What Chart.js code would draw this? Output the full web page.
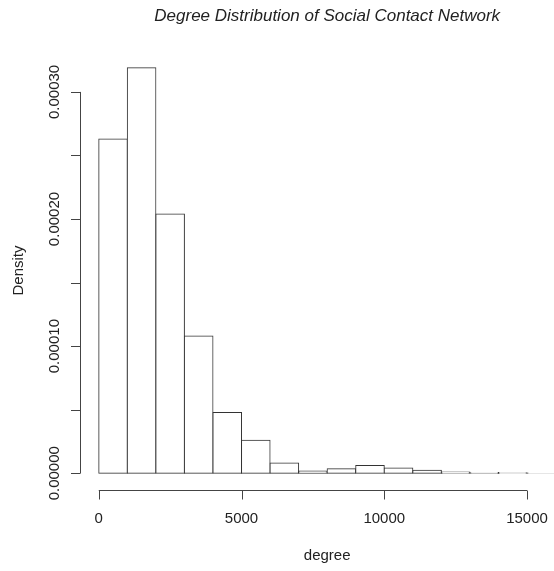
<!DOCTYPE html>
<html>
<head>
<meta charset="utf-8">
<script src="https://cdn.jsdelivr.net/npm/chart.js@4/dist/chart.umd.min.js"></script>
<style>
  html, body { margin: 0; padding: 0; background: #fff; }
  canvas { display: block; }
</style>
</head>
<body>
<canvas id="hist" width="554" height="571"></canvas>
<script>
// bins of width 1000, from 0 to 16000
const binStarts = [0, 1000, 2000, 3000, 4000, 5000, 6000, 7000, 8000, 9000, 10000, 11000, 12000, 13000, 14000, 15000];
const density = [0.000263, 0.000319, 0.000204, 0.000108, 0.0000478, 0.000026, 0.0000081, 0.0000018,
                 0.0000036, 0.000006, 0.0000042, 0.0000024, 0.0000009, 0.0000006, 0.0000003, 0.0000002];
const binWidth = 1000;
const xTicks = [0, 5000, 10000, 15000];
const xTickLabels = ['0', '5000', '10000', '15000'];
const yTicks = [0, 0.00005, 0.0001, 0.00015, 0.0002, 0.00025, 0.0003];
const yTickLabels = ['0.00000', '', '0.00010', '', '0.00020', '', '0.00030'];

const titleText = 'Degree Distribution of Social Contact Network';
const xTitle = 'degree';
const yTitle = 'Density';
const FONT = '"Liberation Sans", Arial, Helvetica, sans-serif';

// R-style axes drawn off the plot region
const rAxes = {
    id: 'rAxes',
    afterDraw(chart) {
        const c = chart.ctx;
        const area = chart.chartArea;
        const xs = chart.scales.x, ys = chart.scales.y;
        c.save();
        c.strokeStyle = '#444';
        c.fillStyle = '#222';
        c.lineWidth = 1;

        // x axis
        const ay = Math.round(area.bottom) + 0.5;
        c.beginPath();
        c.moveTo(xs.getPixelForValue(xTicks[0]), ay);
        c.lineTo(xs.getPixelForValue(xTicks[xTicks.length - 1]), ay);
        xTicks.forEach(v => {
            const px = Math.round(xs.getPixelForValue(v)) + 0.5;
            c.moveTo(px, ay);
            c.lineTo(px, ay + 9);
        });
        c.stroke();
        c.font = '15px ' + FONT;
        c.textAlign = 'center';
        c.textBaseline = 'middle';
        xTicks.forEach((v, i) => c.fillText(xTickLabels[i], xs.getPixelForValue(v), ay + 28));
        c.fillText(xTitle, (area.left + 573.9) / 2, 556);

        // y axis
        const ax = Math.floor(area.left) + 0.5;
        c.beginPath();
        c.moveTo(ax, ys.getPixelForValue(yTicks[0]));
        c.lineTo(ax, ys.getPixelForValue(yTicks[yTicks.length - 1]));
        yTicks.forEach(v => {
            const py = Math.round(ys.getPixelForValue(v)) + 0.5;
            c.moveTo(ax, py);
            c.lineTo(ax - 9.5, py);
        });
        c.stroke();
        yTicks.forEach((v, i) => {
            if (!yTickLabels[i]) return;
            c.save();
            c.translate(55, ys.getPixelForValue(v));
            c.rotate(-Math.PI / 2);
            c.fillText(yTickLabels[i], 0, 0);
            c.restore();
        });
        c.save();
        c.translate(19, (area.top + area.bottom) / 2);
        c.rotate(-Math.PI / 2);
        c.fillText(yTitle, 0, 0);
        c.restore();

        // main title
        c.font = 'italic 17px ' + FONT;
        c.fillText(titleText, (area.left + 573.9) / 2, 16);
        c.restore();
    }
};

const ctx = document.getElementById('hist').getContext('2d');
new Chart(ctx, {
    type: 'bar',
    data: {
        datasets: [{
            data: binStarts.map((b, i) => ({ x: b + binWidth / 2, y: density[i] })),
            backgroundColor: '#ffffff',
            borderColor: '#333333',
            borderWidth: 1,
            borderSkipped: false,
            barPercentage: 1.0,
            categoryPercentage: 1.0,
            inflateAmount: 0.5
        }]
    },
    options: {
        responsive: false,
        animation: false,
        layout: { padding: { left: 80.5, right: 0, top: 51.5, bottom: 81.5 } },
        plugins: { legend: { display: false }, title: { display: false }, tooltip: { enabled: false } },
        scales: {
            x: { type: 'linear', min: -640, max: 15945, display: false, offset: false },
            y: { min: -0.0000128, max: 0.0003318, display: false }
        }
    },
    plugins: [rAxes]
});
</script>
</body>
</html>
